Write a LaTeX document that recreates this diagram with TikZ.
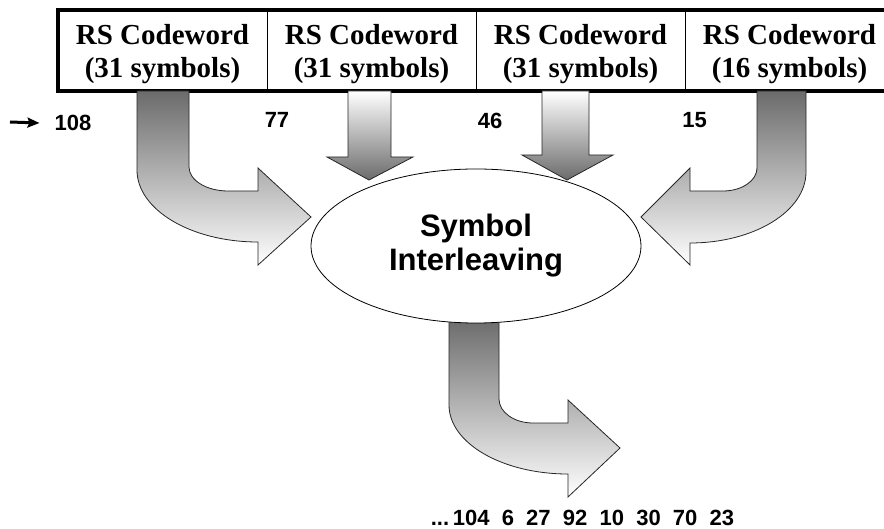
\documentclass[tikz,border=0pt]{standalone}
\usepackage{fontspec}
\setmainfont{Liberation Serif}
\setsansfont{Liberation Sans}
\usepackage{tikz}
\usetikzlibrary{arrows.meta,positioning,shapes.geometric}

\begin{document}
\begin{tikzpicture}[x=1pt,y=-1pt,
    cell/.style={rectangle,draw,line width=1pt,outer sep=0pt,inner sep=0pt,
      minimum width=209pt,minimum height=81pt,align=center,
      text height=55pt,text depth=0pt,
      font=\fontsize{29}{33}\selectfont\bfseries},
    num/.style={inner sep=0pt,font=\fontsize{22}{26}\selectfont\sffamily\bfseries},
    blockarrow/.style={draw=black!85,line width=0.8pt,line join=miter},
    darktop/.style={blockarrow,top color=black!58,bottom color=white},
    lighttop/.style={blockarrow,top color=white,bottom color=black!58}]
  \useasboundingbox (0,0) rectangle (884,529);

  % codeword row
  \node[cell] (cw1) at (162.5,50.5) {RS Codeword\\(31 symbols)};
  \node[cell,right=0pt of cw1] (cw2) {RS Codeword\\(31 symbols)};
  \node[cell,right=0pt of cw2] (cw3) {RS Codeword\\(31 symbols)};
  \node[cell,right=0pt of cw3] (cw4) {RS Codeword\\(16 symbols)};
  \draw[line width=3.5pt] (cw1.north west) rectangle (cw4.south east);

  % symbol indices
  \coordinate (src) at (10,122);
  \node[num] (n108) at (73,123) {108};
  \node[num] (n77) at (277,120) {77};
  \node[num] (n46) at (490,120.5) {46};
  \node[num] (n15) at (694.5,120) {15};
  \draw[-{Stealth[length=12pt,width=10pt,inset=2pt]},line width=3pt]
       (src) -- ([xshift=-15pt]n108.west);

  % block arrows
  \draw[darktop] (137,91) -- (137,170)
       arc[start angle=180,end angle=90,x radius=121,y radius=72]
       -- (258,265) -- (311,217) -- (258,168) -- (258,191) -- (228,191)
       arc[start angle=90,end angle=180,x radius=39,y radius=24]
       -- (189,91) -- cycle;
  \draw[lighttop] (348,91) -- (348,157) -- (327,157) -- (369,180)
       -- (413,157) -- (391,157) -- (391,91) -- cycle;
  \draw[lighttop] (542,91) -- (542,155) -- (522,155) -- (567,180)
       -- (613,155) -- (589,155) -- (589,91) -- cycle;
  \draw[darktop] (806,91) -- (806,172)
       arc[start angle=0,end angle=90,x radius=116,y radius=71]
       -- (690,265) -- (641,217) -- (690,168) -- (690,191) -- (723,191)
       arc[start angle=90,end angle=0,x radius=34,y radius=23]
       -- (757,91) -- cycle;
  \draw[darktop] (449,318) -- (449,405)
       arc[start angle=180,end angle=90,x radius=119,y radius=69]
       -- (568,497) -- (620,448) -- (568,400) -- (568,423) -- (533,423)
       arc[start angle=90,end angle=180,x radius=34,y radius=24]
       -- (499,318) -- cycle;

  % interleaver
  \node[ellipse,draw,fill=white,line width=0.8pt,inner sep=0pt,
        minimum width=330pt,minimum height=154pt,align=center,
        font=\fontsize{31}{34}\selectfont\sffamily\bfseries]
        (il) at (476,246) {Symbol\\Interleaving};

  % output sequence
  \node[num] (seq) at (582.5,518)
       {...\,104~~6~~27~~92~~10~~30~~70~~23};
\end{tikzpicture}
\end{document}
